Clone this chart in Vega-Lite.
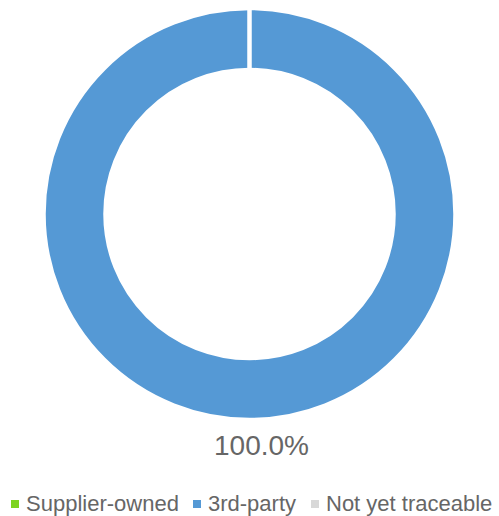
{
  "$schema": "https://vega.github.io/schema/vega-lite/v6.json",
  "width": 499,
  "height": 428,
  "autosize": "none",
  "padding": {"left": 0, "right": 0, "top": 0, "bottom": 88},
  "background": "white",
  "config": {"view": {"stroke": null}, "font": "Liberation Sans"},
  "data": {
    "values": [
      {"category": "Supplier-owned", "share": 0, "order": 1},
      {"category": "3rd-party", "share": 1, "order": 2},
      {"category": "Not yet traceable", "share": 0, "order": 3}
    ]
  },
  "layer": [
    {
      "mark": {"type": "arc", "innerRadius": 144, "outerRadius": 206, "stroke": "white", "strokeWidth": 4.5},
      "encoding": {
        "theta": {"field": "share", "type": "quantitative", "stack": true},
        "order": {"field": "order", "type": "quantitative"},
        "color": {
          "field": "category",
          "type": "nominal",
          "sort": ["Supplier-owned", "3rd-party", "Not yet traceable"],
          "scale": {
            "domain": ["Supplier-owned", "3rd-party", "Not yet traceable"],
            "range": ["#7ED321", "#5599D5", "#D8D8D8"]
          },
          "legend": {
            "title": null,
            "orient": "none",
            "legendX": 4,
            "legendY": 493,
            "padding": 0,
            "direction": "horizontal",
            "symbolType": "square",
            "symbolSize": 64,
            "symbolStrokeWidth": 0,
            "symbolOffset": 0,
            "labelFontSize": 22,
            "labelColor": "#666666",
            "labelLimit": 300,
            "labelOffset": 0,
            "columnPadding": 7
          }
        }
      }
    },
    {
      "transform": [{"filter": "datum.share > 0"}],
      "mark": {"type": "text", "radius": 233, "fontSize": 28, "color": "#666666", "dx": 12, "baseline": "middle", "font": "Liberation Sans"},
      "encoding": {
        "theta": {"field": "share", "type": "quantitative", "stack": true},
        "text": {"field": "share", "type": "quantitative", "format": ".1%"}
      }
    }
  ]
}
